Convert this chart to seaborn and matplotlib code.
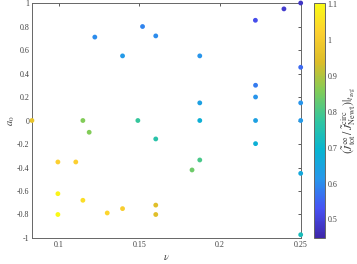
import numpy as np
import pandas as pd
import seaborn as sns
import matplotlib.pyplot as plt
from matplotlib.colors import LinearSegmentedColormap, Normalize
from matplotlib.cm import ScalarMappable
from matplotlib.ticker import FuncFormatter

# datos
nu = [0.0833, 0.1149, 0.1188, 0.1223, 0.1395, 0.149, 0.1519, 0.1601, 0.1874,
      0.2219, 0.2396, 0.25, 0.25, 0.222, 0.222, 0.1874, 0.25, 0.1874, 0.222,
      0.25, 0.1601, 0.0994, 0.1105, 0.0994, 0.1149, 0.0994, 0.130, 0.1395,
      0.1601, 0.1601, 0.222, 0.1874, 0.1826, 0.25, 0.25]
a0 = [0.0, 0.0, -0.10, 0.71, 0.55, 0.0, 0.80, 0.72, 0.55,
      0.853, 0.95, 1.0, 0.453, 0.30, 0.20, 0.15, 0.15, 0.0, 0.0,
      0.0, -0.157, -0.353, -0.353, -0.623, -0.679, -0.80, -0.787, -0.75,
      -0.72, -0.80, -0.197, -0.336, -0.421, -0.45, -0.972]
ratio = [0.97, 0.86, 0.86, 0.60, 0.62, 0.78, 0.59, 0.60, 0.61,
         0.52, 0.49, 0.48, 0.56, 0.58, 0.61, 0.64, 0.61, 0.68, 0.64,
         0.62, 0.76, 1.02, 1.02, 1.09, 1.05, 1.10, 1.03, 1.01,
         0.95, 0.95, 0.68, 0.80, 0.84, 0.66, 0.73]
vmin, vmax = 0.448, 1.104

df = pd.DataFrame({"nu": nu, "a0": a0, "ratio": ratio})

# colormap tipo parula
parula = LinearSegmentedColormap.from_list("parula", [
    (0.2422, 0.1504, 0.6603), (0.2810, 0.3228, 0.9579), (0.1540, 0.5902, 0.9218),
    (0.0297, 0.7082, 0.8163), (0.1938, 0.7758, 0.6251), (0.5044, 0.7993, 0.3480),
    (0.8634, 0.7406, 0.1596), (0.9892, 0.8136, 0.1885), (0.9769, 0.9839, 0.0805)])

sns.set_style("white")
plt.rcParams['font.family'] = ['Liberation Serif', 'DejaVu Serif']
plt.rcParams['mathtext.fontset'] = 'stix'
plt.rcParams['axes.unicode_minus'] = False

fig = plt.figure(figsize=(3.57, 2.64), dpi=100)
ax = fig.add_axes([0.0896, 0.0985, 0.7527, 0.8901])
cax = fig.add_axes([0.8796, 0.0985, 0.030, 0.8901])

norm = Normalize(vmin=vmin, vmax=vmax)
sns.scatterplot(data=df, x="nu", y="a0", hue="ratio", palette=parula, hue_norm=norm,
                s=12, linewidth=0, legend=False, ax=ax, clip_on=False, zorder=3)

fmt = FuncFormatter(lambda v, p: "%g" % (round(v, 2) + 0.0))
ax.set_xlim(1 / 12, 0.25)
ax.set_ylim(-1, 1)
ax.set_xticks([0.1, 0.15, 0.2, 0.25])
ax.set_yticks(np.arange(-1, 1.01, 0.2))
ax.xaxis.set_major_formatter(fmt)
ax.yaxis.set_major_formatter(fmt)
ax.tick_params(direction='in', length=2, width=0.6, labelsize=5.8, colors='#404040',
               top=True, right=True, pad=2)
for s in ax.spines.values():
    s.set_color('#666666')
    s.set_linewidth(0.7)
ax.set_xlabel(r'$\nu$', fontsize=7.5, color='#404040', labelpad=2)
ax.set_ylabel(r'$a_0$', fontsize=7.5, color='#404040', labelpad=0)

cb = fig.colorbar(ScalarMappable(norm=norm, cmap=parula), cax=cax)
cb.set_ticks([0.5, 0.6, 0.7, 0.8, 0.9, 1.0, 1.1])
cb.ax.yaxis.set_major_formatter(fmt)
cb.ax.tick_params(direction='in', length=2, width=0.6, labelsize=5.8, colors='#404040', pad=2)
cb.outline.set_edgecolor('#666666')
cb.outline.set_linewidth(0.7)
cb.set_label(r'$(\tilde{J}^{\infty}_{\rm tot}\,/\,\tilde{J}^{\rm circ}_{\rm Newt})|_{t_{\rm avg}}$',
             fontsize=8.5, color='#404040', labelpad=2)

plt.savefig("out.png", dpi=100)
